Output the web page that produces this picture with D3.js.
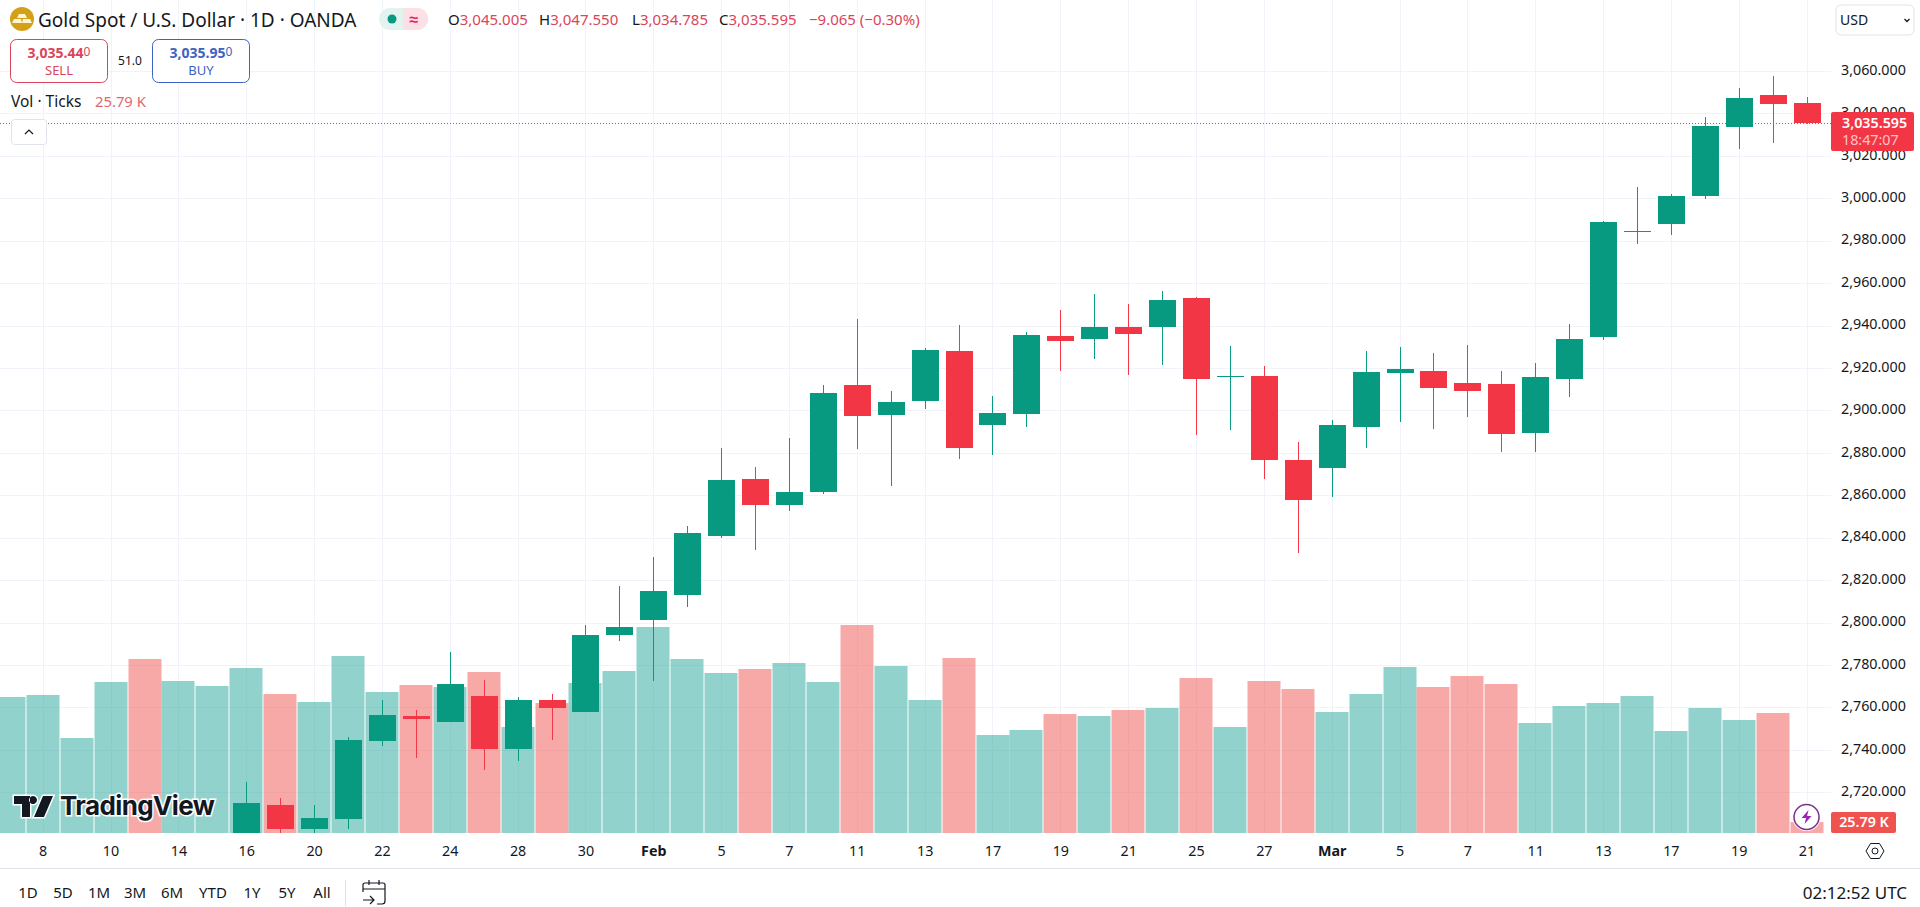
<!DOCTYPE html>
<html>
<head>
<meta charset="utf-8">
<script src="https://cdn.jsdelivr.net/npm/d3@7/dist/d3.min.js"></script>
<style>
html,body{margin:0;padding:0;background:#fff;overflow:hidden}
svg{display:block}
text{font-family:"Noto Sans",sans-serif;fill:#131722}
</style>
</head>
<body>
<script>
const dates = ["01-07","01-08","01-09","01-10","01-13","01-14","01-15","01-16","01-17","01-20","01-21","01-22","01-23","01-24","01-27","01-28","01-29","01-30","01-31","02-03","02-04","02-05","02-06","02-07","02-10","02-11","02-12","02-13","02-14","02-17","02-18","02-19","02-20","02-21","02-24","02-25","02-26","02-27","02-28","03-03","03-04","03-05","03-06","03-07","03-10","03-11","03-12","03-13","03-14","03-17","03-18","03-19","03-20","03-21"];
// Sessions before 01-16 sit below the visible price range, so they hold null.
const opens = [null,null,null,null,null,null,null,2698,2714,2702.7,2707.4,2744.2,2756,2753.1,2765.4,2740.4,2763.5,2757.9,2794.1,2801.2,2813.1,2840.8,2867.7,2855.4,2861.6,2912,2897.8,2904.6,2928,2893.1,2898.3,2935.1,2933.7,2939.3,2939.3,2953,2915.8,2916.2,2876.6,2872.9,2892.2,2917.6,2918.6,2912.9,2912.5,2889.4,2914.8,2934.6,2984.2,2987.9,3001.1,3033.6,3048.7,3045.005];
const highs = [null,null,null,null,null,null,null,2725,2717.2,2714,2746.2,2763.5,2758.8,2786.1,2772.9,2764.8,2766.3,2798.9,2817.2,2830.9,2845.5,2882.3,2873.3,2887,2912,2943.1,2909.2,2929.4,2940.3,2906.8,2937,2947.3,2954.9,2950.2,2956.3,2953.5,2930.4,2921,2885.1,2895.5,2928,2929.9,2927.1,2930.8,2918.6,2922.4,2940.7,2989.3,3005.3,3002,3038.3,3052,3057.6,3047.55];
const lows = [null,null,null,null,null,null,null,2690,2698,2698,2702.6,2741.8,2736.2,2753.1,2730.5,2734.8,2744.7,2757.9,2791.5,2772.6,2807.5,2839.7,2834.2,2852.6,2860.6,2881.8,2864.4,2900.7,2877.1,2879,2892.2,2918.6,2924.2,2916.7,2921.4,2888.4,2890.8,2867.7,2832.8,2859.2,2882.3,2894.6,2891.2,2896.9,2880.4,2880.4,2906.3,2933.2,2978.5,2982.7,2999.8,3023.2,3026.1,3034.785];
const closes = [null,null,null,null,null,null,null,2715,2702.7,2707.9,2744.7,2756.4,2754.6,2771,2740.4,2763.5,2759.7,2794.1,2797.9,2814.9,2842.2,2867.2,2855.4,2861.6,2908.2,2897.4,2904,2928.5,2882.3,2898.8,2935.6,2932.7,2939.3,2936,2952.1,2914.8,2916.2,2876.6,2857.8,2893.1,2918.1,2919.5,2910.6,2909.2,2888.9,2915.8,2933.7,2988.8,2984.7,3001.1,3034.1,3047.3,3044.4,3035.595];
const volumes = [318.9,323.6,222.7,354,408,356.4,344.7,386.9,325.9,307.2,415,330.6,347,342.3,377.5,248.5,304.8,351.7,379.8,483,408,375,384.5,398.6,354,487.7,391.6,311.8,410.3,229.8,241.5,279,274.3,288.4,293,363.4,248.5,356.4,337.6,283.7,325.9,389.2,342.3,368.1,349.4,257.9,297.8,304.8,321.2,239.2,293,265,281.4,25.79];
// true = the volume bar is red
const volumeDown = [0,0,0,0,1,0,0,0,1,0,0,0,1,0,1,0,1,0,0,0,0,0,1,0,0,1,0,0,1,0,0,1,0,1,0,1,0,1,1,0,0,0,1,1,1,0,0,0,0,0,0,0,1,1];
const priceTicks = [2720,2740,2760,2780,2800,2820,2840,2860,2880,2900,2920,2940,2960,2980,3000,3020,3040,3060];
const timeTickDates = ["01-08","01-10","01-14","01-16","01-20","01-22","01-24","01-28","01-30","02-03","02-05","02-07","02-11","02-13","02-17","02-19","02-21","02-25","02-27","03-03","03-05","03-07","03-11","03-13","03-17","03-19","03-21"];
const timeTickLabels = ["8","10","14","16","20","22","24","28","30","Feb","5","7","11","13","17","19","21","25","27","Mar","5","7","11","13","17","19","21"];
const rangeLabels = ["1D","5D","1M","3M","6M","YTD","1Y","5Y","All"];
const lastClose = 3035.595;

const W = 1920, H = 907, plotR = 1831, plotB = 833;
const UP = "#089981", DOWN = "#F23645", VOL_UP = "#26a69a", VOL_DOWN = "#ef5350", GRID = "#f0f3fa", LINE = "#e0e3eb", INK = "#131722";
const FS = 14.3;

const svg = d3.select("body").append("svg").attr("width", W).attr("height", H);
const x = d3.scaleBand().domain(dates).range([-8.18, 1823.5]);
const cx = d => x(d) + x.bandwidth() / 2;
const y = d3.scaleLinear().domain([2700, 3060]).range([834.74, 71]);
const v = d3.scaleLinear().domain([0, 500]).range([plotB, plotB - 500 * 0.4265]);

svg.append("defs").append("clipPath").attr("id", "plot").append("rect").attr("width", plotR).attr("height", plotB);
const plot = svg.append("g").attr("clip-path", "url(#plot)");

// grid
plot.append("g").selectAll("line").data(priceTicks).join("line")
  .attr("x1", 0).attr("x2", plotR).attr("y1", d => Math.round(y(d)) + .5).attr("y2", d => Math.round(y(d)) + .5)
  .attr("stroke", GRID);
plot.append("g").selectAll("line").data(timeTickDates).join("line")
  .attr("y1", 0).attr("y2", plotB).attr("x1", d => Math.round(cx(d)) + .5).attr("x2", d => Math.round(cx(d)) + .5)
  .attr("stroke", GRID);

// volume
plot.append("g").selectAll("rect").data(dates).join("rect")
  .attr("x", d => Math.round(x(d)) + .5)
  .attr("width", 33)
  .attr("y", (d, i) => Math.round(v(volumes[i])))
  .attr("height", (d, i) => plotB - Math.round(v(volumes[i])))
  .attr("fill", (d, i) => volumeDown[i] ? VOL_DOWN : VOL_UP)
  .attr("fill-opacity", .5);

// candles
const candles = dates.map((d, i) => ({d, o: opens[i], h: highs[i], l: lows[i], c: closes[i]})).filter(c => c.o !== null);
const cg = plot.append("g");
cg.selectAll("line").data(candles).join("line")
  .attr("x1", c => Math.round(cx(c.d)) + .5).attr("x2", c => Math.round(cx(c.d)) + .5)
  .attr("y1", c => Math.round(y(c.h))).attr("y2", c => Math.round(y(c.l)))
  .attr("stroke", c => c.c >= c.o ? UP : DOWN).attr("stroke-width", 1);
cg.selectAll("rect").data(candles).join("rect")
  .attr("x", c => Math.round(cx(c.d)) - 13)
  .attr("width", 27)
  .attr("y", c => Math.round(y(Math.max(c.o, c.c))))
  .attr("height", c => Math.max(1, Math.round(y(Math.min(c.o, c.c))) - Math.round(y(Math.max(c.o, c.c)))))
  .attr("fill", c => c.c >= c.o ? UP : DOWN);

// last price line
plot.append("line").attr("x1", 0).attr("x2", plotR)
  .attr("y1", Math.round(y(lastClose)) + .5).attr("y2", Math.round(y(lastClose)) + .5)
  .attr("stroke", DOWN).attr("stroke-width", 1).attr("stroke-dasharray", "1 2");

// price axis
const yAxis = svg.append("g").attr("transform", "translate(1841,-0.5)")
  .call(d3.axisRight(y).tickValues(priceTicks).tickFormat(d3.format(",.3f")).tickSize(0).tickPadding(0));
yAxis.select(".domain").remove();
yAxis.selectAll("text").style("font-family", '"Noto Sans",sans-serif').style("font-size", FS + "px").style("fill", INK).attr("dy", "0.26em");

// time axis
const labelOf = new Map(timeTickDates.map((d, i) => [d, timeTickLabels[i]]));
const xAxis = svg.append("g").attr("transform", `translate(0,${plotB})`)
  .call(d3.axisBottom(d3.scalePoint().domain(dates).range([cx(dates[0]), cx(dates[dates.length - 1])]))
    .tickValues(timeTickDates).tickFormat(d => labelOf.get(d)).tickSize(0).tickPadding(0));
xAxis.select(".domain").remove();
xAxis.selectAll("text").style("font-family", '"Noto Sans",sans-serif').style("font-size", FS + "px").style("fill", INK)
  .attr("dy", 0).attr("y", 23)
  .style("font-weight", d => /^0[23]-03$/.test(d) ? 700 : 400);

// helper
function label(str, px, py, o = {}) {
  return svg.append("text").text(str).attr("x", px).attr("y", py)
    .attr("text-anchor", o.anchor || "start")
    .style("font-size", (o.size || FS) + "px")
    .style("font-weight", o.weight || 400)
    .style("fill", o.fill || INK);
}

// price tag
svg.append("rect").attr("x", plotR).attr("y", 112).attr("width", 83).attr("height", 39).attr("rx", 2).attr("fill", DOWN);
label(d3.format(",.3f")(lastClose), 1842, y(lastClose) + 5, {fill: "#fff", weight: 600, size: FS});
label("18:47:07", 1842, 145, {fill: "#fbc4c9", size: FS});

// volume tag
svg.append("rect").attr("x", plotR).attr("y", 812).attr("width", 65).attr("height", 21).attr("rx", 2).attr("fill", VOL_DOWN);
label("25.79 K", 1864, 827, {fill: "#fff", anchor: "middle", weight: 600, size: FS});

// lightning badge
const bolt = svg.append("g").attr("transform", `translate(${cx("03-21")},817)`);
bolt.append("circle").attr("r", 14).attr("fill", "#fff");
bolt.append("circle").attr("r", 12.5).attr("fill", "#fff").attr("stroke", "#7a2e8e").attr("stroke-width", 1.5);
bolt.append("path").attr("d", "M2-7L-5 1H-.5L-2 7L5-1H.5Z").attr("fill", "#9c27b0");

// settings hexagon
const hex = svg.append("g").attr("transform", "translate(1875,851)").attr("fill", "none").attr("stroke", INK).attr("stroke-width", 1);
hex.append("path").attr("d", "M-9 0L-4.5-7.5H4.5L9 0L4.5 7.5H-4.5Z");
hex.append("circle").attr("r", 3);

// footer
svg.append("line").attr("x1", 0).attr("x2", W).attr("y1", 868.5).attr("y2", 868.5).attr("stroke", LINE);
svg.append("line").attr("x1", 345.5).attr("x2", 345.5).attr("y1", 880).attr("y2", 906).attr("stroke", LINE);
const rangeX = [28, 63, 99, 135, 172, 213, 252, 287, 322];
rangeLabels.forEach((t, i) => label(t, rangeX[i], 898, {anchor: "middle", size: 15}));
label("02:12:52 UTC", 1907, 899, {anchor: "end", size: 17});
const cal = svg.append("g").attr("transform", "translate(374,893)").attr("fill", "none").attr("stroke", INK).attr("stroke-width", 1.2);
cal.append("path").attr("d", "M-11-1V-8Q-11-10-9-10H9Q11-10 11-8V8Q11 11 8 11H3M-11-4H11M-5-13V-8M5-13V-8");
cal.append("path").attr("d", "M-11 7H-1M-4 3L0 7L-4 11");

// header
const gold = svg.append("g").attr("transform", "translate(22,19)");
gold.append("circle").attr("r", 12).attr("fill", "#d4a017");
gold.append("path").attr("d", "M-3-5H3L5-1H-5ZM-8 0H-1L0 4H-10ZM1 0H8L10 4H0Z").attr("fill", "#fff4d6");
label("Gold Spot / U.S. Dollar · 1D · OANDA", 38, 26.5, {size: 19});
svg.append("rect").attr("x", 379).attr("y", 8).attr("width", 49).attr("height", 22).attr("rx", 11).attr("fill", "#e3f3f0");
svg.append("path").attr("d", "M403 8H417A11 11 0 0 1 417 30H403Z").attr("fill", "#fde0e6");
svg.append("circle").attr("cx", 392).attr("cy", 19).attr("r", 4.5).attr("fill", UP);
label("≈", 414, 25, {anchor: "middle", size: 16, weight: 700, fill: "#e91e63"});

const redText = "#d9455a";
const ohlc = [["O", "3,045.005", 448], ["H", "3,047.550", 539], ["L", "3,034.785", 632], ["C", "3,035.595", 719]];
ohlc.forEach(([k, val, px]) => {
  const t = label(k, px, 25, {size: 15});
  t.append("tspan").text(val).style("fill", redText);
});
label("−9.065 (−0.30%)", 809, 25, {size: 15, fill: redText});

// sell / buy
svg.append("rect").attr("x", 10.5).attr("y", 39.5).attr("width", 97).attr("height", 43).attr("rx", 6).attr("fill", "#fff").attr("stroke", "#d9455a");
svg.append("rect").attr("x", 152.5).attr("y", 39.5).attr("width", 97).attr("height", 43).attr("rx", 6).attr("fill", "#fff").attr("stroke", "#3e63c0");
const sell = label("3,035.44", 59, 58, {anchor: "middle", weight: 700, size: 14, fill: "#d9455a"});
sell.append("tspan").text("0").style("font-weight", 400).style("font-size", "12px").attr("dy", -2);
label("SELL", 59, 75, {anchor: "middle", size: 13, fill: "#d9455a"});
const buy = label("3,035.95", 201, 58, {anchor: "middle", weight: 700, size: 14, fill: "#3e63c0"});
buy.append("tspan").text("0").style("font-weight", 400).style("font-size", "12px").attr("dy", -2);
label("BUY", 201, 75, {anchor: "middle", size: 13, fill: "#3e63c0"});
label("51.0", 130, 65, {anchor: "middle", size: 12});

label("Vol · Ticks", 11, 107, {size: 15.5});
label("25.79 K", 95, 107, {size: 14.8, fill: "#e0686f"});

svg.append("rect").attr("x", 11.5).attr("y", 119.5).attr("width", 35).attr("height", 25).attr("rx", 3).attr("fill", "#fff").attr("stroke", LINE);
svg.append("path").attr("d", "M25 134L29 130L33 134").attr("fill", "none").attr("stroke", INK).attr("stroke-width", 1.2);

// currency box
svg.append("rect").attr("x", 1836).attr("y", 5).attr("width", 78).attr("height", 30).attr("rx", 5).attr("fill", "#fff").attr("stroke", LINE);
label("USD", 1840, 25, {size: 14});
svg.append("path").attr("d", "M1904.5 19L1907 21.5L1909.5 19").attr("fill", "none").attr("stroke", INK).attr("stroke-width", 1.3);

// watermark
const wm = svg.append("g").attr("transform", "translate(14,796)");
const logo = "M0 0H16V21H8V8H0ZM23 4A4 4 0 1 0 23 4.01M29 0H39L30 21H20Z";
wm.append("path").attr("d", logo).attr("fill", INK).attr("stroke", "#fff").attr("stroke-width", 3).attr("paint-order", "stroke");
wm.append("text").text("TradingView").attr("x", 46).attr("y", 19)
  .style("font-family", "Inter,sans-serif").style("font-size", "26px").style("font-weight", 700).style("letter-spacing", "-0.6px")
  .attr("stroke", "#fff").attr("stroke-width", 3).attr("paint-order", "stroke");
</script>
</body>
</html>
